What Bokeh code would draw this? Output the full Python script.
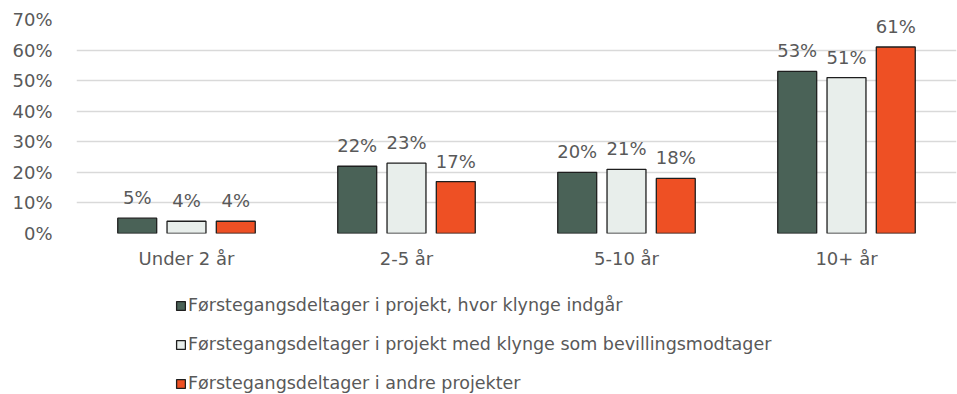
from bokeh.plotting import figure
from bokeh.layouts import column
from bokeh.models import ColumnDataSource, FactorRange, NumeralTickFormatter, FixedTicker, Legend, LegendItem
from bokeh.core.properties import value
from bokeh.transform import dodge
from bokeh.embed import file_html
from bokeh.resources import INLINE

# Andel førstegangsdeltagere fordelt på virksomhedens alder
categories = ["Under 2 år", "2-5 år", "5-10 år", "10+ år"]
klynge_indgaar = [0.05, 0.22, 0.20, 0.53]
klynge_modtager = [0.04, 0.23, 0.21, 0.51]
andre_projekter = [0.04, 0.17, 0.18, 0.61]
series_names = [
    "Førstegangsdeltager i projekt, hvor klynge indgår",
    "Førstegangsdeltager i projekt med klynge som bevillingsmodtager",
    "Førstegangsdeltager i andre projekter",
]
y_ticks = [0.0, 0.1, 0.2, 0.3, 0.4, 0.5, 0.6, 0.7]

colors = ["#4a6257", "#e8eeeb", "#ee5024"]
offsets = [-0.224, 0.0, 0.224]
text_color = "#595959"
outline = "#1e1e1e"
font = "DejaVu Sans"
font_size = "18px"

source = ColumnDataSource(dict(
    cat=categories,
    s0=klynge_indgaar,
    s1=klynge_modtager,
    s2=andre_projekter,
    l0=[f"{round(v * 100)}%" for v in klynge_indgaar],
    l1=[f"{round(v * 100)}%" for v in klynge_modtager],
    l2=[f"{round(v * 100)}%" for v in andre_projekter],
))

# Bar chart
p = figure(
    width=957, height=275,
    x_range=FactorRange(*categories, range_padding=0),
    y_range=(0, 0.7),
    output_backend="svg", toolbar_location=None,
    min_border_left=76, min_border_right=1, min_border_top=19, min_border_bottom=42,
)
p.outline_line_color = None
p.background_fill_color = "white"
p.border_fill_color = "white"

bars = []
for i in range(3):
    bars.append(p.vbar(x=dodge("cat", offsets[i], range=p.x_range), top=f"s{i}", width=0.177,
                       source=source, fill_color=colors[i], line_color=outline, line_width=1.3))
    p.text(x=dodge("cat", offsets[i], range=p.x_range), y=f"s{i}", text=f"l{i}", source=source,
           text_align="center", text_baseline="bottom", y_offset=-10,
           text_font_size=font_size, text_color=text_color, text_font=value(font))

p.yaxis.ticker = FixedTicker(ticks=y_ticks)
p.yaxis.formatter = NumeralTickFormatter(format="0%")
for ax in (p.xaxis[0], p.yaxis[0]):
    ax.axis_line_color = None
    ax.major_tick_line_color = None
    ax.minor_tick_line_color = None
    ax.major_label_text_font = font
    ax.major_label_text_font_size = font_size
    ax.major_label_text_color = text_color
p.yaxis.major_label_standoff = 18
p.xaxis.major_label_standoff = 8

p.xgrid.grid_line_color = None
p.ygrid.grid_line_color = "#d9d9d9"
p.ygrid.grid_line_width = 1.5

# Legend panel underneath the chart
lg = figure(
    width=957, height=119, x_range=(0, 1), y_range=(0, 1),
    x_axis_location=None, y_axis_location=None,
    output_backend="svg", toolbar_location=None,
    min_border_left=0, min_border_right=0, min_border_top=0, min_border_bottom=0,
)
lg.grid.visible = False
lg.outline_line_color = None
lg.background_fill_color = "white"
lg.border_fill_color = "white"

items = []
for i in range(3):
    # hidden stand-in bar: only its legend swatch is drawn
    r = lg.vbar(x=[0.5], top=[0.5], width=0.1,
                fill_color=colors[i], line_color=outline, line_width=1.3, visible=False)
    items.append(LegendItem(label=series_names[i], renderers=[r]))

legend = Legend(
    items=items, location=(99, 1), orientation="vertical",
    glyph_width=11, glyph_height=11, label_height=20, spacing=19,
    label_standoff=2, padding=0, margin=0,
    label_text_font=font, label_text_font_size="17.5px",
    label_text_color=text_color, border_line_alpha=0, background_fill_alpha=0,
)
lg.add_layout(legend, "center")

layout = column(p, lg, spacing=0)
open("out.html", "w").write(file_html(layout, INLINE))
